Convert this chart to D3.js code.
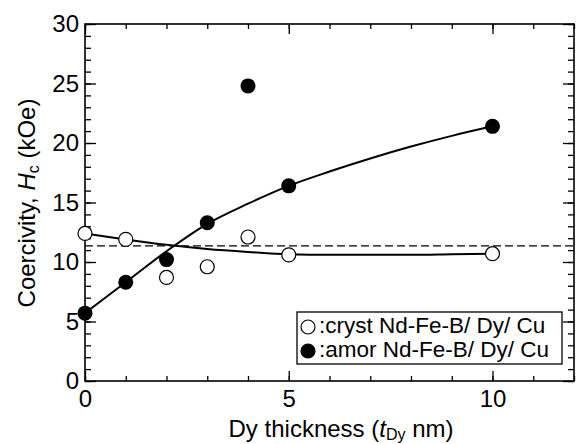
<!DOCTYPE html>
<html>
<head>
<meta charset="utf-8">
<script src="https://cdn.jsdelivr.net/npm/d3@7"></script>
<style>
  body { margin: 0; background: #fff; }
  text { font-family: "Liberation Sans", Arial, Helvetica, sans-serif; fill: #000; }
</style>
</head>
<body>
<div id="chart"></div>
<script>
// measured points (Dy thickness in nm, Hc in kOe)
const thickness = [0, 1, 2, 3, 4, 5, 10];
const crystHc = [12.4, 11.9, 8.7, 9.6, 12.1, 10.6, 10.7];
const amorHc = [5.7, 8.3, 10.2, 13.3, 24.8, 16.4, 21.4];

// guide curves
const fitX = [0, 1, 2, 3, 4, 5, 6, 7, 8, 9, 10];
const crystFit = [12.4, 11.9, 11.45, 11.1, 10.85, 10.65, 10.6, 10.6, 10.6, 10.65, 10.7];
const amorFit = [5.7, 8.3, 10.9, 13.2, 14.9, 16.4, 17.6, 18.7, 19.7, 20.6, 21.4];

// dashed reference level
const refLevel = 11.35;

const xTicks = [0, 5, 10];
const xMinorTicks = d3.range(0, 13, 1);
const yTicks = [0, 5, 10, 15, 20, 25, 30];
const yMinorTicks = d3.range(0, 31, 1);
const legendLabels = ["cryst Nd-Fe-B/ Dy/ Cu", "amor Nd-Fe-B/ Dy/ Cu"];

class CoercivityChart {

  constructor(_config) {
    this.config = {
      parentElement: _config.parentElement,
      containerWidth: 579,
      containerHeight: 444,
      margin: {top: 24, right: 5, bottom: 63, left: 85}
    }
    this.initVis();
  }

  initVis() {
    let vis = this;

    vis.config.width = vis.config.containerWidth - vis.config.margin.left - vis.config.margin.right;
    vis.config.height = vis.config.containerHeight - vis.config.margin.top - vis.config.margin.bottom;

    vis.xScale = d3.scaleLinear().domain([0, 12]).range([0, vis.config.width]);
    vis.yScale = d3.scaleLinear().domain([0, 30]).range([vis.config.height, 0]);

    vis.svg = d3.select(vis.config.parentElement).append('svg')
        .attr('width', vis.config.containerWidth)
        .attr('height', vis.config.containerHeight);

    vis.chart = vis.svg.append('g')
        .attr('transform', `translate(${vis.config.margin.left},${vis.config.margin.top})`);

    vis.renderVis();
  }

  // one set of ticks on a side of the frame
  addAxis(axisFn, scale, values, size, labels, transform) {
    let vis = this;
    let axis = axisFn(scale).tickValues(values).tickSize(-size).tickPadding(labels ? 9 : 0)
        .tickFormat(labels ? d3.format('d') : '');
    let g = vis.chart.append('g').attr('transform', transform).call(axis);
    g.select('.domain').remove();
    g.selectAll('.tick line').attr('stroke', '#000').attr('stroke-width', 1.3);
    g.selectAll('.tick text').attr('font-size', 24).style('font-family', '"Liberation Sans", Arial, sans-serif');
    return g;
  }

  renderVis() {
    let vis = this;
    const w = vis.config.width, h = vis.config.height;

    // ticks on all four sides, pointing inward
    vis.addAxis(d3.axisBottom, vis.xScale, xMinorTicks, 5, false, `translate(0,${h})`);
    vis.addAxis(d3.axisBottom, vis.xScale, xTicks, 10, true, `translate(0,${h})`);
    vis.addAxis(d3.axisTop, vis.xScale, xMinorTicks, 5, false, 'translate(0,0)');
    vis.addAxis(d3.axisTop, vis.xScale, xTicks, 10, false, 'translate(0,0)');
    vis.addAxis(d3.axisLeft, vis.yScale, yMinorTicks, 6, false, 'translate(0,0)');
    let yL = vis.addAxis(d3.axisLeft, vis.yScale, yTicks, 11, true, 'translate(0,0)');
    yL.selectAll('.tick text').attr('x', -6);
    vis.addAxis(d3.axisRight, vis.yScale, yMinorTicks, 6, false, `translate(${w},0)`);
    vis.addAxis(d3.axisRight, vis.yScale, yTicks, 11, false, `translate(${w},0)`);

    // frame
    vis.chart.append('rect')
        .attr('width', w).attr('height', h)
        .attr('fill', 'none').attr('stroke', '#000').attr('stroke-width', 1.6);

    // dashed reference line
    vis.chart.append('line')
        .attr('x1', vis.xScale(0)).attr('x2', vis.xScale(12))
        .attr('y1', vis.yScale(refLevel)).attr('y2', vis.yScale(refLevel))
        .attr('stroke', '#000').attr('stroke-width', 1.3)
        .attr('stroke-dasharray', '8,4');

    // guide curves
    const line = d3.line()
        .x(d => vis.xScale(d[0]))
        .y(d => vis.yScale(d[1]))
        .curve(d3.curveMonotoneX);

    [crystFit, amorFit].forEach(fit => {
      vis.chart.append('path')
          .datum(fitX.map((x, i) => [x, fit[i]]))
          .attr('d', line)
          .attr('fill', 'none')
          .attr('stroke', '#000')
          .attr('stroke-width', 2);
    });

    // markers
    vis.chart.selectAll('.cryst')
        .data(thickness.map((x, i) => [x, crystHc[i]]))
      .join('circle')
        .attr('class', 'cryst')
        .attr('cx', d => vis.xScale(d[0]))
        .attr('cy', d => vis.yScale(d[1]))
        .attr('r', 7)
        .attr('fill', '#fff')
        .attr('stroke', '#000')
        .attr('stroke-width', 1.2);

    vis.chart.selectAll('.amor')
        .data(thickness.map((x, i) => [x, amorHc[i]]))
      .join('circle')
        .attr('class', 'amor')
        .attr('cx', d => vis.xScale(d[0]))
        .attr('cy', d => vis.yScale(d[1]))
        .attr('r', 7.5)
        .attr('fill', '#000');

    // legend
    const legend = vis.svg.append('g').attr('transform', 'translate(297,312)');
    legend.append('rect')
        .attr('width', 265).attr('height', 52)
        .attr('fill', '#fff').attr('stroke', '#000').attr('stroke-width', 1.3);
    legendLabels.forEach((label, i) => {
      legend.append('circle')
          .attr('cx', 11).attr('cy', 15 + i * 24).attr('r', 7)
          .attr('fill', i === 0 ? '#fff' : '#000')
          .attr('stroke', '#000').attr('stroke-width', 1.2);
      legend.append('text')
          .attr('x', 22).attr('y', 21 + i * 24)
          .attr('font-size', 22.5)
          .text(':' + label);
    });

    // axis titles
    const xTitle = vis.svg.append('text')
        .attr('x', 341).attr('y', 437)
        .attr('text-anchor', 'middle')
        .attr('font-size', 24);
    xTitle.append('tspan').text('Dy thickness (');
    xTitle.append('tspan').attr('font-style', 'italic').text('t');
    xTitle.append('tspan').attr('font-size', 16).attr('dy', 3).text('Dy');
    xTitle.append('tspan').attr('dy', -3).text(' nm)');

    const yTitle = vis.svg.append('text')
        .attr('transform', 'translate(35,203) rotate(-90)')
        .attr('text-anchor', 'middle')
        .attr('font-size', 24);
    yTitle.append('tspan').text('Coercivity, ');
    yTitle.append('tspan').attr('font-style', 'italic').text('H');
    yTitle.append('tspan').attr('font-size', 16).attr('dy', 4).text('c');
    yTitle.append('tspan').attr('dy', -4).text(' (kOe)');
  }
}

new CoercivityChart({parentElement: '#chart'});
</script>
</body>
</html>
